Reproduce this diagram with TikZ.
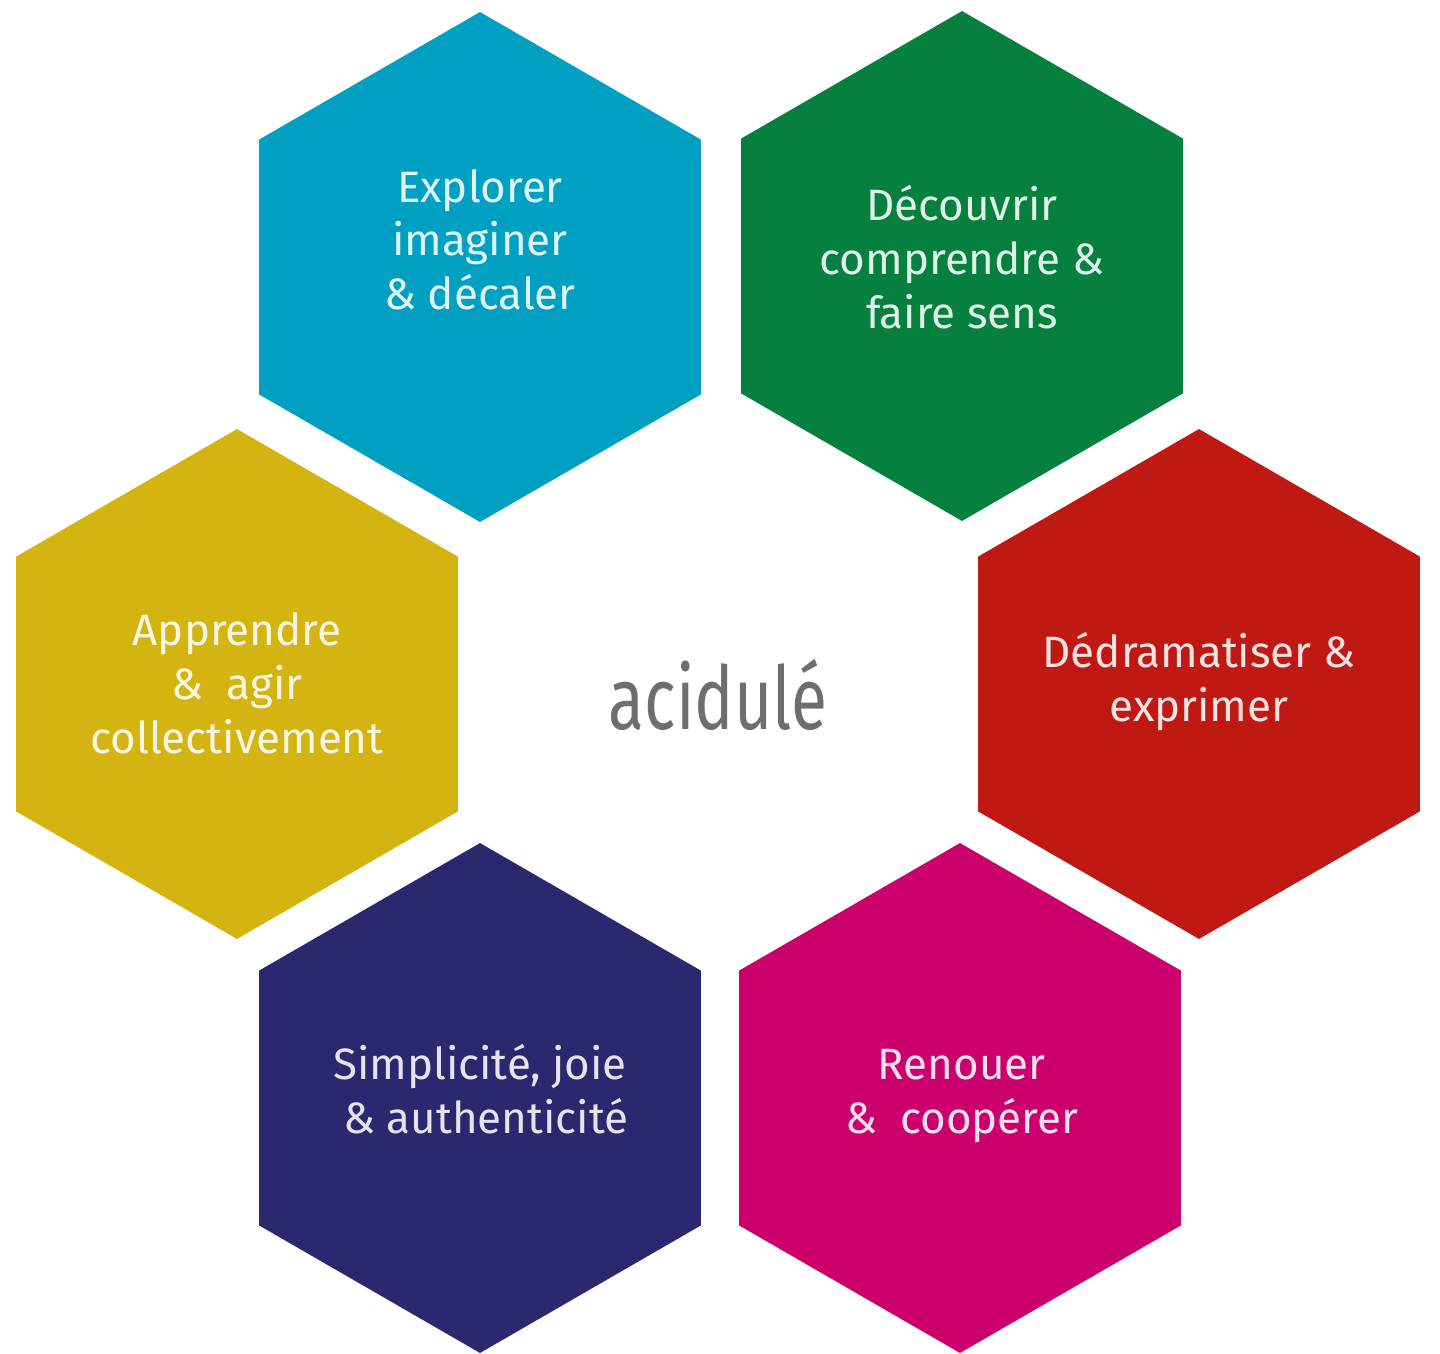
\documentclass[tikz,border=0pt]{standalone}
\usepackage{fontspec}
\setmainfont{Fira Sans}
\usetikzlibrary{shapes.geometric,positioning}

\definecolor{bleuH}{HTML}{00A0C3}
\definecolor{vertH}{HTML}{05803F}
\definecolor{jauneH}{HTML}{D3B411}
\definecolor{rougeH}{HTML}{C01812}
\definecolor{marineH}{HTML}{2B2870}
\definecolor{roseH}{HTML}{CC006D}
\definecolor{grisH}{HTML}{6E6E6E}

\tikzset{
  hexa/.style={regular polygon, regular polygon sides=6, shape border rotate=30,
    minimum size=10.2cm, inner sep=0pt, outer sep=0pt, draw=none, fill=#1},
  etiq/.style={align=center, text=white, text opacity=0.88,
    font=\fontsize{25}{30.7}\selectfont}
}

\begin{document}
\begin{tikzpicture}[x=0.02cm,y=-0.02cm]
\useasboundingbox (0,0) rectangle (1440,1353);

% Les alveoles
\node[hexa=bleuH]   (explorer)   at (480,267)  {};
\node[hexa=vertH]   (decouvrir)  at (962,266)  {};
\node[hexa=jauneH]  (apprendre)  at (237,684)  {};
\node[hexa=rougeH]  (dedram)     at (1199,684) {};
\node[hexa=marineH] (simplicite) at (480,1098) {};
\node[hexa=roseH]   (renouer)    at (960,1098) {};

% Les textes
\node[etiq] (t-explorer) at ([yshift=15.5pt]explorer.center) {Explorer\\imaginer\\\& décaler};
\node[etiq] (t-decouvrir) at ([yshift=5pt]decouvrir.center) {Découvrir\\comprendre \&\\faire sens};
\node[etiq] (t-apprendre) at ([yshift=0.5pt]apprendre.center) {Apprendre\\\&\ \ agir\\collectivement};
\node[etiq] (t-dedram) at ([yshift=1.6pt]dedram.center) {Dédramatiser \&\\exprimer};
\node[etiq] (t-simplicite) at ([yshift=5.3pt]simplicite.center) {Simplicité, joie\\\ \& authenticité};
\node[etiq] (t-renouer) at ([xshift=1pt,yshift=1pt]renouer.center) {Renouer\\\&\ \ coopérer};

% Le centre
\node[text=grisH, font=\fontsize{50}{56}\selectfont, xscale=0.75] (acidule) at (718,695) {acidulé};

\end{tikzpicture}
\end{document}
